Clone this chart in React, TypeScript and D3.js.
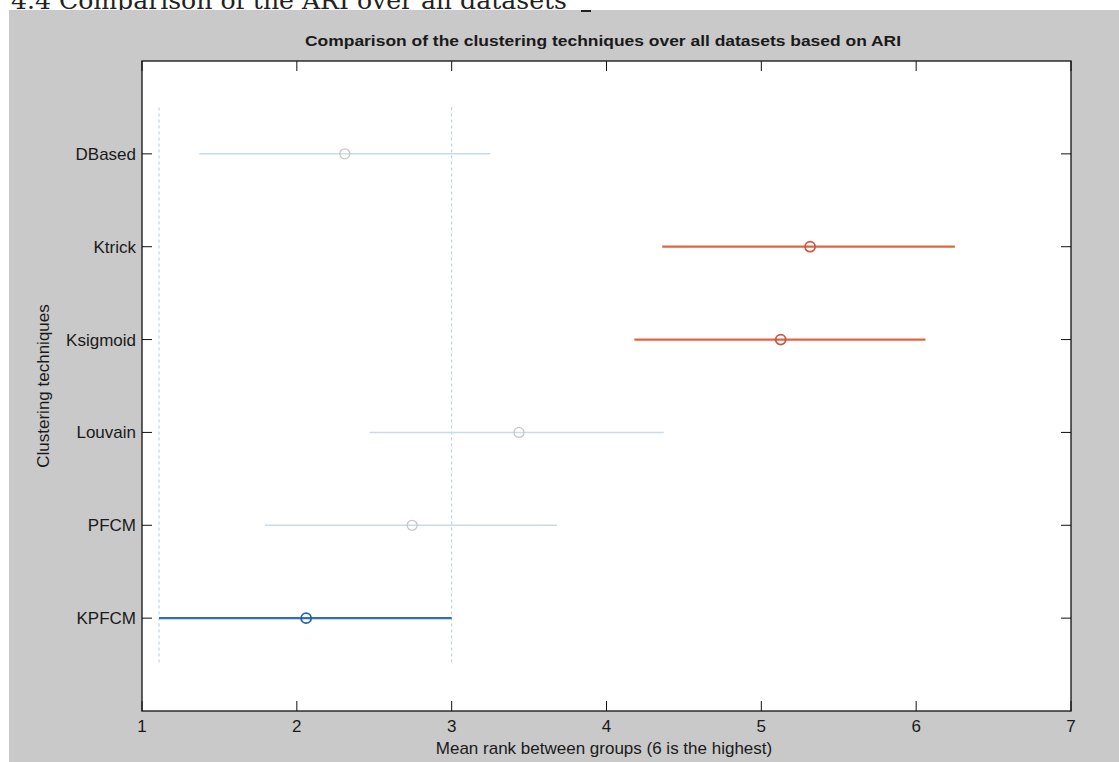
import React from "react";
import * as d3 from "d3";

// groups from bottom (1) to top (6)
const techniques = ["KPFCM", "PFCM", "Louvain", "Ksigmoid", "Ktrick", "DBased"];
const meanRanks = [2.06, 2.745, 3.435, 5.125, 5.315, 2.31];
const lowerBounds = [1.11, 1.795, 2.47, 4.18, 4.36, 1.37];
const upperBounds = [3.0, 3.68, 4.37, 6.06, 6.25, 3.25];
// 0 = not significant, 1 = selected group, 2 = significantly different
const groupState = [1, 0, 0, 2, 2, 0];
const xTicks = [1, 2, 3, 4, 5, 6, 7];

const W = 1119;
const H = 762;
const margin = { top: 61, right: 48, bottom: 51, left: 142 };

const lineColor = ["#c9dbe6", "#2a6ebd", "#e2643f"];
const dotColor = ["#c6c6c6", "#2a62a8", "#c65848"];
const font = "Arial, 'Liberation Sans', sans-serif";

export default function App() {
  const x = d3.scaleLinear().domain([1, 7]).range([margin.left, W - margin.right]);
  const y = d3.scaleLinear().domain([0, 7]).range([H - margin.bottom, margin.top]);
  const x0 = x.range()[0], x1 = x.range()[1];
  const y0 = y.range()[0], y1 = y.range()[1];
  const sel = groupState.indexOf(1);
  const refLines = [lowerBounds[sel], upperBounds[sel]];

  return (
    <svg width={W} height={H} style={{ position: "absolute", left: 0, top: 0, background: "#fff" }}>
      <text x={11} y={9} fontFamily="'DejaVu Serif', serif" fontSize={24} textLength={556} lengthAdjust="spacingAndGlyphs" fill="#222">
        4.4 Comparison of the ARI over all datasets
      </text>
      <rect x={9} y={10} width={W - 9} height={H - 10} fill="#c9c9c9" />
      <rect x={581} y={10} width={10} height={2} fill="#222" />

      <rect x={x0} y={y1} width={x1 - x0} height={y0 - y1} fill="#fff" />

      {refLines.map((v, i) => (
        <line key={"r" + i} x1={x(v)} x2={x(v)} y1={y(6.5)} y2={y(0.5)}
          stroke="#a9cbe8" strokeWidth={1} strokeDasharray="3,3" />
      ))}

      {techniques.map((t, i) => {
        const s = groupState[i];
        const yy = y(i + 1);
        return (
          <g key={t}>
            <line x1={x(lowerBounds[i])} x2={x(upperBounds[i])} y1={yy} y2={yy}
              stroke={lineColor[s]} strokeWidth={s ? 2.2 : 1.5} />
            <circle cx={x(meanRanks[i])} cy={yy} r={5} fill="none"
              stroke={dotColor[s]} strokeWidth={s ? 1.8 : 1.3} />
          </g>
        );
      })}

      <rect x={x0} y={y1} width={x1 - x0} height={y0 - y1} fill="none" stroke="#111" strokeWidth={1.3} />

      {xTicks.map((v) => (
        <g key={"x" + v}>
          <line x1={x(v)} x2={x(v)} y1={y0} y2={y0 - 10} stroke="#111" />
          <line x1={x(v)} x2={x(v)} y1={y1} y2={y1 + 10} stroke="#111" />
          <text x={x(v)} y={732} textAnchor="middle" fontFamily={font} fontSize={17} fill="#1a1a1a">{v}</text>
        </g>
      ))}

      {techniques.map((t, i) => (
        <g key={"y" + t}>
          <line x1={x0} x2={x0 + 10} y1={y(i + 1)} y2={y(i + 1)} stroke="#111" />
          <line x1={x1} x2={x1 - 10} y1={y(i + 1)} y2={y(i + 1)} stroke="#111" />
          <text x={x0 - 6} y={y(i + 1) + 6} textAnchor="end" fontFamily={font} fontSize={17} fill="#1a1a1a">{t}</text>
        </g>
      ))}

      <text x={603} y={46} textAnchor="middle" fontFamily={font} fontWeight="bold" fontSize={15.5}
        textLength={596} lengthAdjust="spacingAndGlyphs" fill="#1a1a1a">
        Comparison of the clustering techniques over all datasets based on ARI
      </text>
      <text x={604} y={754} textAnchor="middle" fontFamily={font} fontSize={17} fill="#1a1a1a">
        Mean rank between groups (6 is the highest)
      </text>
      <text transform={`translate(49,${(y0 + y1) / 2}) rotate(-90)`} textAnchor="middle"
        fontFamily={font} fontSize={17} fill="#1a1a1a">
        Clustering techniques
      </text>
    </svg>
  );
}
